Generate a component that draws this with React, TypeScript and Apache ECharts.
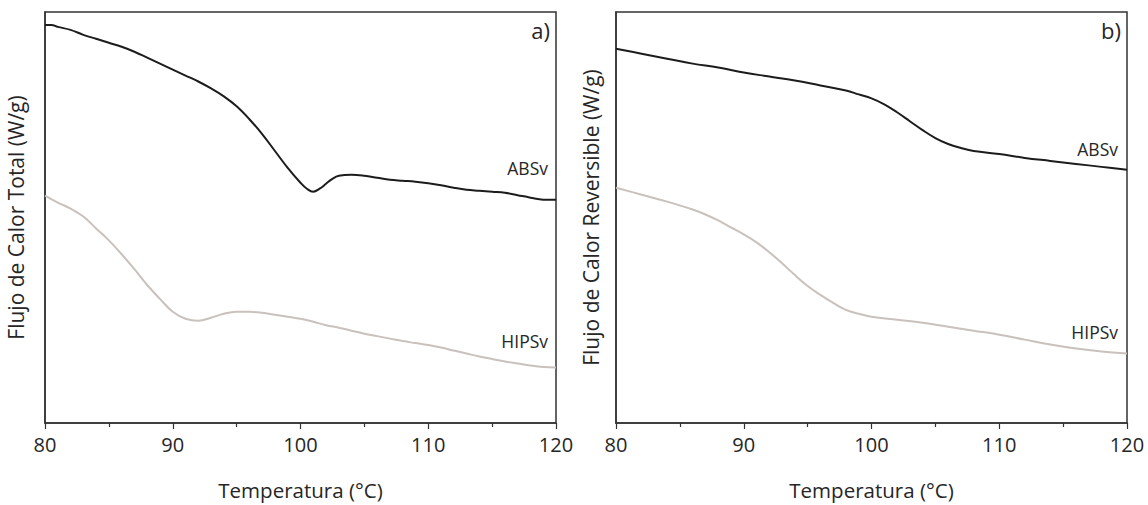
import React, { useEffect, useRef } from "react";
import * as echarts from "echarts";

// Temperatures (°C) and heat flow (arbitrary W/g units)
const totalAbsT = [80, 80.5, 81, 82, 83, 84, 85, 86, 87, 88, 89, 90, 91, 92, 93, 94, 95, 96, 97, 98, 99, 100, 100.5, 101, 101.5, 102, 102.5, 103, 104, 105, 106, 107, 108, 109, 110, 111, 112, 113, 114, 115, 116, 117, 118, 119, 120];
const totalAbsV = [4.01, 4.01, 3.99, 3.96, 3.91, 3.87, 3.83, 3.79, 3.74, 3.68, 3.62, 3.56, 3.5, 3.44, 3.37, 3.29, 3.19, 3.06, 2.91, 2.74, 2.57, 2.42, 2.36, 2.33, 2.36, 2.41, 2.46, 2.49, 2.5, 2.49, 2.47, 2.45, 2.44, 2.43, 2.415, 2.395, 2.37, 2.35, 2.34, 2.33, 2.32, 2.295, 2.27, 2.25, 2.25];

const totalHipsT = [80, 81, 82, 83, 84, 85, 86, 87, 88, 89, 90, 91, 92, 93, 94, 95, 96, 97, 98, 99, 100, 101, 102, 103, 104, 105, 106, 107, 108, 109, 110, 111, 112, 113, 114, 115, 116, 117, 118, 119, 120];
const totalHipsV = [2.29, 2.22, 2.16, 2.08, 1.96, 1.84, 1.7, 1.55, 1.39, 1.25, 1.12, 1.05, 1.03, 1.06, 1.1, 1.12, 1.12, 1.11, 1.09, 1.07, 1.05, 1.02, 0.985, 0.96, 0.93, 0.9, 0.875, 0.85, 0.825, 0.805, 0.785, 0.76, 0.73, 0.7, 0.67, 0.645, 0.62, 0.6, 0.58, 0.565, 0.56];

const revAbsT = [80, 82, 84, 86, 88, 90, 92, 94, 96, 98, 99, 100, 101, 102, 103, 104, 105, 106, 107, 108, 110, 112, 114, 116, 118, 120];
const revAbsV = [3.77, 3.72, 3.67, 3.62, 3.58, 3.53, 3.49, 3.45, 3.4, 3.35, 3.31, 3.27, 3.21, 3.13, 3.04, 2.95, 2.87, 2.81, 2.77, 2.74, 2.71, 2.67, 2.64, 2.61, 2.58, 2.55];

const revHipsT = [80, 82, 84, 86, 87, 88, 89, 90, 91, 92, 93, 94, 95, 96, 97, 98, 99, 100, 102, 104, 106, 108, 110, 112, 114, 116, 118, 120];
const revHipsV = [2.37, 2.3, 2.23, 2.15, 2.1, 2.04, 1.97, 1.9, 1.82, 1.72, 1.61, 1.49, 1.38, 1.29, 1.21, 1.14, 1.1, 1.07, 1.04, 1.01, 0.97, 0.93, 0.89, 0.84, 0.79, 0.75, 0.72, 0.7];

const xTicks = [80, 90, 100, 110, 120];
const seriesNames = ["ABSv", "HIPSv"];
const panelTags = ["a)", "b)"];
const yTitles = ["Flujo de Calor Total (W/g)", "Flujo de Calor Reversible (W/g)"];
const xTitle = "Temperatura (°C)";

const FONT = "'Open Sans', sans-serif";
const TXT = "#262626";

const zip = (t: number[], v: number[]) => t.map((x, i) => [x, v[i]]);

export default function App() {
  const ref = useRef<HTMLDivElement>(null);
  useEffect(() => {
    if (!ref.current) return;
    const chart = echarts.init(ref.current, null, { renderer: "svg" });
    const grids = [
      { left: 45, right: 592, top: 12, bottom: 79 },
      { left: 616, right: 21, top: 12, bottom: 79 },
    ];
    const xAxis = grids.map((_, i) => ({
      type: "value",
      gridIndex: i,
      min: xTicks[0],
      max: xTicks[xTicks.length - 1],
      interval: 10,
      name: xTitle,
      nameLocation: "middle",
      nameGap: 56,
      nameTextStyle: { fontFamily: FONT, fontSize: 20.5, color: TXT },
      axisLine: { show: true, lineStyle: { color: "#333", width: 1.5 } },
      axisTick: { show: true, inside: false, length: 6, lineStyle: { color: "#333", width: 1.2 } },
      minorTick: { show: true, splitNumber: 2, length: 4, lineStyle: { color: "#333", width: 1.2 } },
      axisLabel: { fontFamily: FONT, fontSize: 20, color: TXT, margin: 11 },
      splitLine: { show: false },
    }));
    const yAxis = grids.map((_, i) => ({
      type: "value",
      gridIndex: i,
      min: 0,
      max: 4.14,
      name: yTitles[i],
      nameLocation: "middle",
      nameGap: i === 0 ? 19 : 15,
      nameTextStyle: { fontFamily: FONT, fontSize: 21, color: TXT },
      axisLine: { show: true, lineStyle: { color: "#333", width: 1.5 } },
      axisTick: { show: false },
      axisLabel: { show: false },
      splitLine: { show: false },
    }));
    const lineSeries = (name: string, data: number[][], idx: number, color: string) => ({
      type: "line",
      name,
      xAxisIndex: idx,
      yAxisIndex: idx,
      data,
      smooth: 0.4,
      showSymbol: false,
      lineStyle: { color, width: 2 },
    });
    const black = "#1c1c1c";
    const gray = "#c9c1bd";
    chart.setOption({
      animation: false,
      backgroundColor: "#fff",
      grid: grids.map((g) => ({ ...g, show: true, borderColor: "#333", borderWidth: 1.5, backgroundColor: "transparent" })),
      xAxis,
      yAxis,
      series: [
        lineSeries(seriesNames[0], zip(totalAbsT, totalAbsV), 0, black),
        lineSeries(seriesNames[1], zip(totalHipsT, totalHipsV), 0, gray),
        lineSeries(seriesNames[0], zip(revAbsT, revAbsV), 1, black),
        lineSeries(seriesNames[1], zip(revHipsT, revHipsV), 1, gray),
      ],
      graphic: [
        { type: "text", right: 1148 - 550, top: 19, style: { text: panelTags[0], font: `22px ${FONT}`, fill: TXT } },
        { type: "text", right: 1148 - 1121, top: 19, style: { text: panelTags[1], font: `22px ${FONT}`, fill: TXT } },
        { type: "text", right: 1148 - 548, top: 159, style: { text: seriesNames[0], font: `17.5px ${FONT}`, fill: TXT } },
        { type: "text", right: 1148 - 548, top: 332, style: { text: seriesNames[1], font: `17.5px ${FONT}`, fill: TXT } },
        { type: "text", right: 1148 - 1118, top: 140, style: { text: seriesNames[0], font: `17.5px ${FONT}`, fill: TXT } },
        { type: "text", right: 1148 - 1118, top: 323, style: { text: seriesNames[1], font: `17.5px ${FONT}`, fill: TXT } },
      ],
    });
    return () => chart.dispose();
  }, []);
  return (
    <div
      ref={ref}
      style={{ position: "fixed", left: 0, top: 0, width: 1148, height: 505, background: "#fff" }}
    />
  );
}
